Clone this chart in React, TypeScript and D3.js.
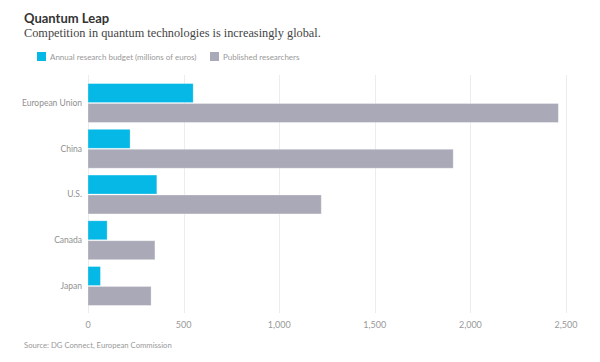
import React, { useEffect, useRef } from 'react';
import * as d3 from 'd3';

const countries = ['European Union', 'China', 'U.S.', 'Canada', 'Japan'];
const budget = [550, 220, 360, 100, 65];
const researchers = [2460, 1910, 1220, 350, 330];
const xTicks = [0, 500, 1000, 1500, 2000, 2500];
const seriesNames = ['Annual research budget (millions of euros)', 'Published researchers'];
const seriesColors = ['#06b8e6', '#aaa9b7'];

const App = () => {
  const width = 600,
    height = 362,
    margin = { left: 88, top: 75, bottom: 49, right: 34 };

  const svgRef = useRef<SVGSVGElement>(null);

  useEffect(() => {
    const svg = d3.select(svgRef.current);
    svg.selectAll('*').remove();

    const sans = 'Lato, "Open Sans", sans-serif';

    const x = d3.scaleLinear()
      .domain([0, 2500])
      .range([margin.left, width - margin.right]);

    const y = d3.scaleBand<string>()
      .domain(countries)
      .range([79, 310])
      .paddingInner(0.15)
      .paddingOuter(0.1);

    const inner = d3.scaleBand<number>()
      .domain([0, 1])
      .range([0, y.bandwidth()])
      .paddingInner(0.05);

    // grid
    svg.append('g')
      .attr('stroke', '#ececec')
      .attr('stroke-width', 1)
      .selectAll('line')
      .data(xTicks)
      .join('line')
      .attr('x1', d => Math.round(x(d)) + 0.5)
      .attr('x2', d => Math.round(x(d)) + 0.5)
      .attr('y1', margin.top)
      .attr('y2', height - margin.bottom);

    // tick labels
    svg.append('g')
      .attr('font-family', sans)
      .attr('font-size', 9)
      .attr('fill', '#999')
      .attr('text-anchor', 'middle')
      .selectAll('text')
      .data(xTicks)
      .join('text')
      .attr('x', d => x(d))
      .attr('y', 328)
      .text(d => d3.format(',')(d));

    const rows = countries.map((c, i) => ({ c, vals: [budget[i], researchers[i]] }));

    const groups = svg.append('g')
      .selectAll('g')
      .data(rows)
      .join('g')
      .attr('transform', d => `translate(0,${y(d.c)})`);

    groups.selectAll('rect')
      .data(d => d.vals.map((v, k) => ({ v, k })))
      .join('rect')
      .attr('x', x(0))
      .attr('y', d => inner(d.k)!)
      .attr('width', d => x(d.v) - x(0))
      .attr('height', inner.bandwidth())
      .attr('fill', d => seriesColors[d.k])
      .attr('stroke', '#fff')
      .attr('stroke-opacity', 0.35)
      .attr('stroke-width', 0.8);

    // category labels
    svg.append('g')
      .attr('font-family', sans)
      .attr('font-size', 8.5)
      .attr('fill', '#909090')
      .attr('text-anchor', 'end')
      .selectAll('text')
      .data(countries)
      .join('text')
      .attr('x', margin.left - 6)
      .attr('y', d => y(d)! + y.bandwidth() / 2)
      .attr('dy', '0.35em')
      .text(d => d);

    // title
    svg.append('text')
      .attr('x', 24)
      .attr('y', 23)
      .attr('font-family', sans)
      .attr('font-weight', 'bold')
      .attr('font-size', 13)
      .attr('fill', '#333')
      .text('Quantum Leap');

    svg.append('text')
      .attr('x', 24)
      .attr('y', 37)
      .attr('font-family', '"Liberation Serif", serif')
      .attr('font-size', 12.3)
      .attr('fill', '#444')
      .text('Competition in quantum technologies is increasingly global.');

    // legend
    const legendX = [37, 210];
    const legend = svg.append('g')
      .selectAll('g')
      .data(seriesNames)
      .join('g')
      .attr('transform', (d, i) => `translate(${legendX[i]},52)`);
    legend.append('rect')
      .attr('width', 9)
      .attr('height', 9)
      .attr('fill', (d, i) => seriesColors[i]);
    legend.append('text')
      .attr('x', 13)
      .attr('y', 7.5)
      .attr('font-family', sans)
      .attr('font-size', 8)
      .attr('fill', '#999')
      .text(d => d);

    // source
    svg.append('text')
      .attr('x', 24)
      .attr('y', 348)
      .attr('font-family', sans)
      .attr('font-size', 7.7)
      .attr('fill', '#999')
      .text('Source: DG Connect, European Commission');
  }, []);

  return (
    <svg ref={svgRef} width={width} height={height}
      style={{ position: 'absolute', left: 0, top: 0, background: '#fff' }}></svg>
  );
};

export default App;
